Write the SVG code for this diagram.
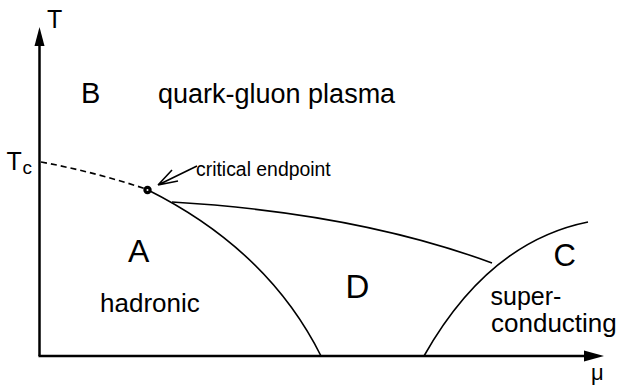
<svg xmlns="http://www.w3.org/2000/svg" width="621" height="387" viewBox="0 0 621 387">
<style>
text{font-family:"Liberation Sans",Arial,sans-serif;fill:#000}
.ax{stroke:#000;stroke-width:2.5;fill:none}
.cv{stroke:#000;stroke-width:1.6;fill:none}
</style>
<rect width="621" height="387" fill="#fff"/>
<g id="axes">
<line class="ax" x1="39.5" y1="356" x2="39.5" y2="45"/>
<path d="M34.5,46 L39.5,27 L44.5,46 Z" fill="#000"/>
<line class="ax" x1="38.5" y1="356" x2="585" y2="356"/>
<path d="M584,350.5 L604,356 L584,361.5 Z" fill="#000"/>
</g>
<g id="connectors">
<path class="cv" d="M41,162 Q95,172 146,189" stroke-dasharray="6,4"/>
<path class="cv" d="M148,190 Q268,250 321,356"/>
<path class="cv" d="M172,202 Q357,213 492,263"/>
<path class="cv" d="M424,356 Q488.5,242 588,222"/>
<path class="cv" d="M197,166 L158,185 M158,185 L172,170 M158,185 L178,181" stroke-width="1.3"/>
</g>
<g id="endpoint"><circle cx="147.5" cy="190" r="2.6" fill="#fff" stroke="#000" stroke-width="3.2"/></g>
<g id="labels">
<text x="47" y="28" font-size="25">T</text>
<text x="6.5" y="170" font-size="25">T</text>
<text x="22.5" y="174" font-size="19">c</text>
<text x="81" y="103" font-size="29">B</text>
<text x="158" y="103" font-size="27">quark-gluon plasma</text>
<text x="196" y="176" font-size="19.4">critical endpoint</text>
<text x="128" y="262" font-size="32">A</text>
<text x="100" y="312" font-size="26">hadronic</text>
<text x="345.5" y="298" font-size="33">D</text>
<text x="553.5" y="266" font-size="31">C</text>
<text x="490.5" y="305" font-size="25">super-</text>
<text x="491" y="332" font-size="26">conducting</text>
<text x="591" y="380" font-size="22">μ</text>
</g>
</svg>
